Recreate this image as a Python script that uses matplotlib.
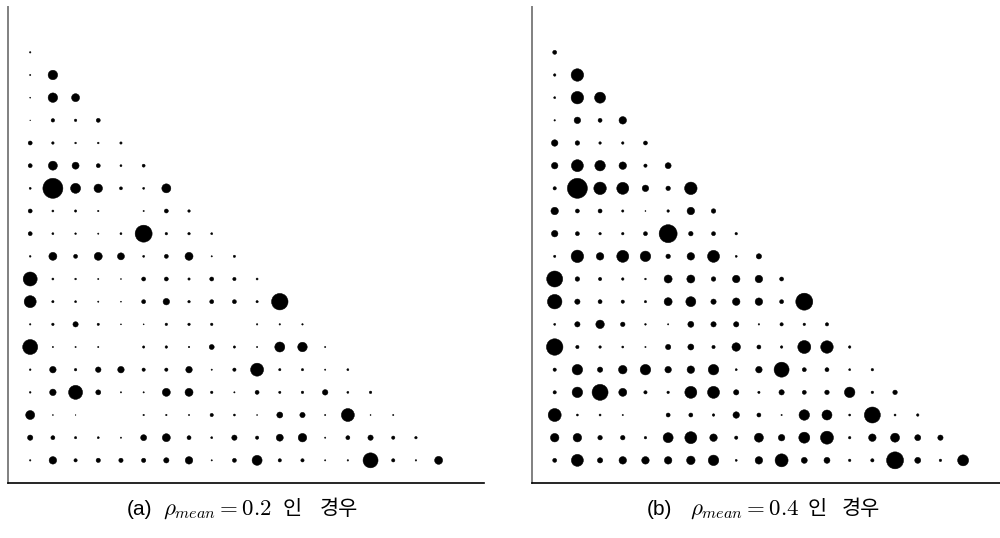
import numpy as np
import matplotlib
matplotlib.use("Agg")
import matplotlib.pyplot as plt

plt.rcParams['mathtext.fontset'] = 'cm'

# lower-triangular magnitude matrices (row i has i+1 entries), rho_mean = 0.2
rho02_rows = [
    [1.5],
    [1.3, 9.5],
    [1.0, 9.5, 8],
    [0.7, 3.5, 2.5, 4],
    [4, 2.5, 1.7, 1.7, 2.3],
    [4, 9, 7, 4, 2, 3],
    [2, 20, 10, 8.5, 3, 2, 9],
    [4, 2, 2.3, 1.5, 0, 1.3, 4, 2.5],
    [4, 2, 1.7, 1.3, 2, 17, 2.5, 2.5, 2],
    [1.7, 8, 4, 8, 7, 2, 4, 8, 1.3, 2.3],
    [14, 2, 1.7, 1.3, 1, 4, 4, 2.3, 4, 3.3, 2],
    [12, 2.3, 2, 1.3, 1, 4, 6.5, 2.5, 4, 4, 2.3, 16.5],
    [1.5, 2.5, 5.3, 2.3, 1, 1, 2.5, 2.5, 2.5, 0, 1.5, 1.5, 1.5],
    [15, 1.3, 1.3, 1.3, 0, 2.3, 2.5, 1.5, 5, 2.3, 1.3, 10, 9.5, 1.3],
    [1.7, 6.5, 2.5, 5.5, 6.5, 3.3, 3.3, 6.5, 1.3, 3.3, 13, 2.3, 2.3, 1.3, 2],
    [1.7, 6.5, 14, 5, 1.3, 1.3, 8, 8, 2.5, 1.3, 4, 2.3, 2.5, 5.5, 2, 2.5],
    [9, 1, 0.7, 0, 0, 1.5, 1.5, 1.3, 3.3, 2, 1, 6, 5.3, 1.3, 13, 1, 1.3],
    [5.3, 4, 2.3, 2, 1.3, 6, 8, 4, 2, 5.3, 3.3, 7, 8.5, 1.3, 4, 5.3, 3.3, 2.5],
    [1.5, 7.5, 3.3, 4.3, 4.3, 4.3, 5.3, 7.5, 1.3, 4, 10, 3.3, 3.3, 1.3, 1.5, 15, 3.3, 1.5, 8],
]

# same layout, rho_mean = 0.4
rho04_rows = [
    [4],
    [2.5, 12.5],
    [2, 12.5, 11],
    [1.5, 6.5, 4, 7.5],
    [6.5, 4.5, 2.5, 2.5, 4],
    [6.5, 12, 10.5, 7.5, 3.3, 6],
    [3.3, 20, 12.5, 12, 6.5, 4.5, 12.5],
    [7.5, 4, 4, 2.3, 1, 2.5, 7.5, 4.5],
    [6.5, 4, 2.5, 2.5, 4, 18, 4.5, 4, 2.5],
    [2.3, 12.5, 7.5, 12, 10.5, 4.5, 7.5, 12, 2, 5.3],
    [16, 4.5, 3.3, 2.5, 1.7, 8, 8, 4.5, 7.5, 7.5, 4],
    [14.5, 5.3, 4, 3.3, 2.3, 8, 10, 5.3, 7.5, 7.5, 4, 17],
    [2, 5.3, 8.5, 4.5, 1.7, 1.3, 6, 5.3, 5.3, 1.5, 3.3, 2.5, 3.3],
    [16.5, 3.3, 2.5, 2, 1.3, 5.3, 6, 3.3, 8.5, 4, 2.5, 13, 12.5, 2.5],
    [3.3, 10.5, 5.3, 8.5, 10.5, 6.5, 7.5, 10.5, 2, 6.5, 15, 4, 4, 2, 2.5],
    [3.3, 10.5, 16, 8, 3.3, 2.5, 12, 12, 5.3, 2.3, 5.3, 4, 4.5, 10.5, 2.5, 4.5],
    [13, 2, 2, 1.3, 0, 4, 4, 2.5, 6.5, 4, 1.3, 10.5, 10, 2, 16, 2, 2.5],
    [8.5, 8.5, 4.5, 4.5, 2.5, 10, 12, 7.5, 3.3, 9, 6.5, 11, 13, 2.5, 7.5, 9, 6, 5.3],
    [4, 12, 5.3, 7.5, 7.5, 7.5, 8.5, 10.5, 2, 7.5, 13, 6, 6, 2.5, 3.3, 17, 6, 2.5, 11],
]

panel_tags = ["(a)", "(b)"]
rho_labels = [r"$\rho_{mean}=0.2$", r"$\rho_{mean}=0.4$"]
case_words = ["인", "경우"]

DPI = 100
W, H = 1000, 538
fig = plt.figure(figsize=(W / DPI, H / DPI), dpi=DPI)


def dot_panel(ax, rows):
    xs, ys, mags = [], [], []
    for i, row in enumerate(rows):
        for j, m in enumerate(row):
            xs.append(j)
            ys.append(i)
            mags.append(m)
    mags = np.array(mags)
    # magnitude is the dot diameter in pixels -> marker area in points^2
    sizes = (mags * 72.0 / DPI) ** 2
    ax.scatter(xs, ys, s=sizes, c='black', edgecolors='black', linewidths=0.35)
    ax.set_xlim(-1, 20)
    ax.set_ylim(19, -2)
    ax.set_xticks([])
    ax.set_yticks([])
    ax.spines['top'].set_visible(False)
    ax.spines['right'].set_visible(False)
    ax.spines['left'].set_color('#808080')
    ax.spines['left'].set_linewidth(1.4)
    ax.spines['bottom'].set_color('black')
    ax.spines['bottom'].set_linewidth(1.2)


ax1 = fig.add_axes([0.0075, 0.1022, 0.4765, 0.8848])
ax2 = fig.add_axes([0.532, 0.1022, 0.4765, 0.8848])
dot_panel(ax1, rho02_rows)
dot_panel(ax2, rho04_rows)

# caption pieces placed by pixel x: tag, math, "인", "경우"
caption_x = [(127, 163, 283, 320), (647, 690, 808, 842)]
base_y = 1 - 515 / H
kfont = ['Noto Sans CJK KR', 'DejaVu Sans']
for (xt, xm, xk1, xk2), tag, rho in zip(caption_x, panel_tags, rho_labels):
    fig.text(xt / W, base_y, tag, ha='left', va='baseline', fontsize=15,
             family='Liberation Sans')
    fig.text(xm / W, base_y, rho, ha='left', va='baseline', fontsize=16.5)
    fig.text(xk1 / W, base_y, case_words[0], ha='left', va='baseline',
             fontsize=15, family=kfont)
    fig.text(xk2 / W, base_y, case_words[1], ha='left', va='baseline',
             fontsize=15, family=kfont)

fig.savefig("out.png", dpi=DPI)
